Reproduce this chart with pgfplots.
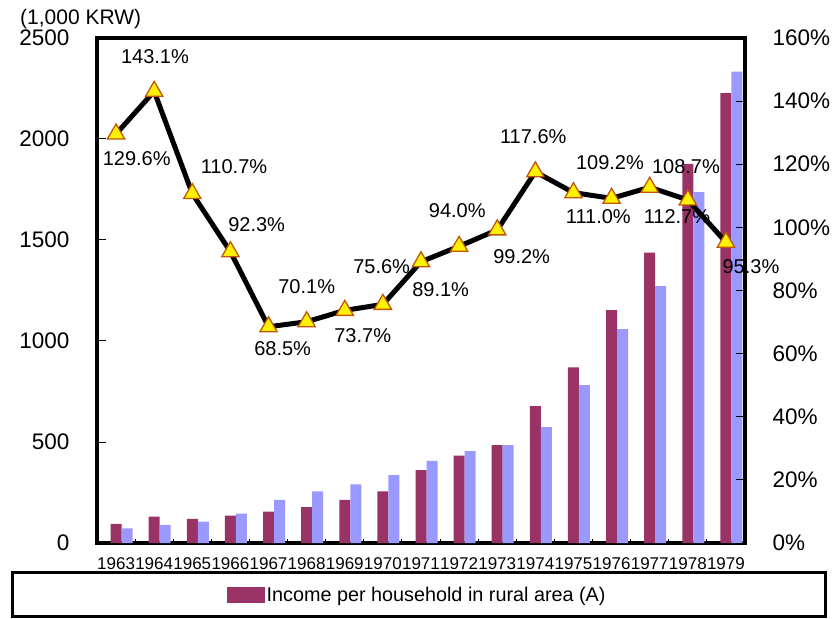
\documentclass[border=0pt]{standalone}
\usepackage{fontspec}
\setmainfont{Liberation Sans}
\usepackage{pgfplots}
\pgfplotsset{compat=1.18}
\definecolor{barA}{HTML}{993366}
\definecolor{barB}{HTML}{9999FF}
\definecolor{mkedge}{HTML}{C0560A}
\pgfplotsset{/pgf/number format/assume math mode=true, /pgf/number format/1000 sep={}}
\newcommand{\lbl}[3]{\node[font=\fontsize{20}{20}\selectfont, inner sep=0pt] at (axis cs:#1,#2) {#3};}
\begin{document}
\begin{tikzpicture}
\path[use as bounding box] (0,0) rectangle (834pt,618pt);
\draw[line width=3pt] (12pt,2pt) rectangle (825pt,46pt);
\node[anchor=west, font=\fontsize{21}{21}\selectfont, inner sep=0pt] at (20pt,598.5pt) {(1,000 KRW)};
\begin{axis}[
  at={(97pt,75pt)}, anchor=south west,
  scale only axis, width=648pt, height=505pt,
  xmin=-0.5, xmax=16.5, ymin=0, ymax=2500,
  ybar=0pt, bar width=11pt,
  axis line style={line width=3.5pt},
  xtick={0,...,16},
  xticklabels={1963,1964,1965,1966,1967,1968,1969,1970,1971,1972,1973,1974,1975,1976,1977,1978,1979},
  minor xtick={-0.5,0.5,...,16.5},
  xtick pos=bottom, ytick pos=left,
  tick align=inside,
  major x tick style={draw=none},
  minor tick length=4pt,
  major tick length=9pt,
  tick style={line width=1pt, black},
  ytick={0,500,...,2500},
  xticklabel style={font=\fontsize{17}{17}\selectfont, yshift=-11pt, inner xsep=0pt},
  yticklabel style={font=\fontsize{22.5}{22.5}\selectfont, xshift=-24pt},
  legend style={at={(0.494,-0.103)}, anchor=center, draw=none, fill=none,
    font=\fontsize{19.8}{19.8}\selectfont, inner sep=0pt},
  legend image code/.code={\fill[barA] (0pt,-8pt) rectangle (38pt,8pt);},
]
\addplot[fill=barA, draw=none] coordinates {
(0,95) (1,131) (2,120) (3,136) (4,155) (5,178) (6,214) (7,255) (8,361)
(9,433) (10,485) (11,677) (12,870) (13,1153) (14,1437) (15,1877) (16,2227)};
\addlegendentry{Income per household in rural area (A)}
\addplot[fill=barB, draw=none, forget plot] coordinates {
(0,72) (1,90) (2,106) (3,146) (4,214) (5,255) (6,290) (7,336) (8,406)
(9,455) (10,485) (11,574) (12,782) (13,1059) (14,1272) (15,1737) (16,2333)};
\end{axis}
\begin{axis}[
  at={(97pt,75pt)}, anchor=south west,
  scale only axis, width=648pt, height=505pt,
  xmin=-0.5, xmax=16.5, ymin=0, ymax=160,
  axis y line*=right, axis x line=none,
  axis line style={line width=3.5pt},
  ytick={0,20,...,160},
  yticklabel={\pgfmathprintnumber{\tick}\%},
  tick align=inside, major tick length=9pt,
  tick style={line width=1pt, black},
  yticklabel style={font=\fontsize{22.5}{22.5}\selectfont, xshift=24pt},
  clip=false,
]
\addplot[black, line width=5pt, mark=triangle*, mark size=10pt,
  mark options={fill=yellow, draw=mkedge, line width=1.3pt}] coordinates {
(0,129.6) (1,143.1) (2,110.7) (3,92.3) (4,68.5) (5,70.1) (6,73.7) (7,75.6)
(8,89.1) (9,94.0) (10,99.2) (11,117.6) (12,111.0) (13,109.2) (14,112.7)
(15,108.7) (16,95.3)};
\lbl{0.541}{121.9}{129.6\%}
\lbl{1.021}{154.1}{143.1\%}
\lbl{3.094}{119.2}{110.7\%}
\lbl{3.689}{100.8}{92.3\%}
\lbl{4.371}{61.7}{68.5\%}
\lbl{5.001}{81.2}{70.1\%}
\lbl{6.470}{65.6}{73.7\%}
\lbl{6.968}{87.5}{75.6\%}
\lbl{8.516}{80.4}{89.1\%}
\lbl{8.952}{105.3}{94.0\%}
\lbl{10.641}{90.7}{99.2\%}
\lbl{10.945}{128.7}{117.6\%}
\lbl{12.957}{120.5}{109.2\%}
\lbl{12.651}{103.4}{111.0\%}
\lbl{14.715}{103.3}{112.7\%}
\lbl{14.951}{119.1}{108.7\%}
\lbl{16.656}{87.5}{95.3\%}
\end{axis}
\end{tikzpicture}
\end{document}
